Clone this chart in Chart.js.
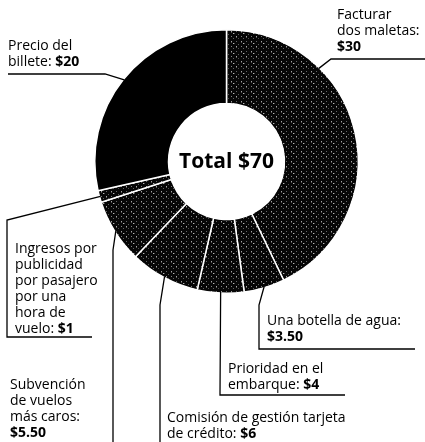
<!DOCTYPE html>
<html lang="es">
<head>
<meta charset="utf-8">
<title>Total $70</title>
<script src="https://cdn.jsdelivr.net/npm/chart.js@4.4.1/dist/chart.umd.min.js"></script>
<style>
  html, body { margin: 0; padding: 0; background: #fff; }
  #wrap { position: relative; width: 425px; height: 442px; }
</style>
</head>
<body>
<div id="wrap"><canvas id="donut"></canvas></div>
<script>
// ─── datos (sentido horario desde arriba) ───
const categories = [
    'Facturar dos maletas',
    'Una botella de agua',
    'Prioridad en el embarque',
    'Comisión de gestión tarjeta de crédito',
    'Subvención de vuelos más caros',
    'Ingresos por publicidad por pasajero por una hora de vuelo',
    'Precio del billete',
];
const values = [30, 3.5, 4, 6, 5.5, 1, 20];

// texto de cada etiqueta, {v} = valor en negrita
const labelLines = [
    ['Facturar', 'dos maletas:', '{v}'],
    ['Una botella de agua:', '{v}'],
    ['Prioridad en el', 'embarque: {v}'],
    ['Comisión de gestión tarjeta', 'de crédito: {v}'],
    ['Subvención', 'de vuelos', 'más caros:', '{v}'],
    ['Ingresos por', 'publicidad', 'por pasajero', 'por una', 'hora de', 'vuelo: {v}'],
    ['Precio del', 'billete: {v}'],
];

const centerText = ['Total ', '$' + values.reduce((s, v) => s + v, 0)];

// ─── posición de etiquetas y líneas guía ───
// frac: punto del arco donde empieza la línea; path: quiebres de la línea
const callouts = [
    { frac: 0.29, x: 337, y: 15, path: [[331, 59], [425, 59]] },
    { frac: 0.5, x: 267, y: 321, path: [[259, 305], [259, 349], [415, 349]] },
    { frac: 0.5, x: 228, y: 369, path: [[220, 395], [345, 395]] },
    { frac: 0.5, x: 167, y: 418, path: [[160, 305], [160, 442]] },
    { frac: 0.5, x: 10, y: 385, path: [[113, 250], [113, 442]] },
    { frac: 0.5, x: 15, y: 249, path: [[7, 220], [7, 337], [92, 337]] },
    { frac: 0.5, x: 8, y: 46, path: [[105, 74], [8, 74]] },
];

const LINE_H = 16;
const FONT = '"Open Sans", "Noto Sans", sans-serif';

function fmt(v) {
    return '$' + (Number.isInteger(v) ? v : v.toFixed(2));
}

// textura punteada de las porciones grises
function makeTexture() {
    const c = document.createElement('canvas');
    c.width = 10; c.height = 10;
    const g = c.getContext('2d');
    g.fillStyle = '#060606';
    g.fillRect(0, 0, 10, 10);
    const dots = [
        [1, 1, '#a0a0a0'], [6, 1, '#666666'], [3, 3, '#b8b8b8'], [8, 4, '#5e5e5e'],
        [1, 6, '#808080'], [6, 6, '#aaaaaa'], [3, 8, '#626262'], [8, 8, '#4c4c4c'],
        [1, 2, '#505050'], [6, 7, '#5a5a5a'], [4, 3, '#4a4a4a'],
    ];
    dots.forEach(([x, y, col]) => { g.fillStyle = col; g.fillRect(x, y, 1, 1); });
    return g.createPattern(c, 'repeat');
}

const ctx = document.getElementById('donut').getContext('2d');
const texture = makeTexture();
const colors = values.map((v, i) => (i === values.length - 1 ? '#000000' : texture));

function drawRich(c, text, value, x, y) {
    const parts = text.split('{v}');
    let cx = x;
    parts.forEach((p, i) => {
        if (p) {
            c.font = `400 14px ${FONT}`;
            c.fillText(p, cx, y);
            cx += c.measureText(p).width;
        }
        if (i < parts.length - 1) {
            c.font = `700 14px ${FONT}`;
            c.fillText(value, cx, y);
            cx += c.measureText(value).width;
        }
    });
}

const calloutPlugin = {
    id: 'callouts',
    afterDraw(chart) {
        const c = chart.ctx;
        const meta = chart.getDatasetMeta(0);
        c.save();
        c.strokeStyle = '#000';
        c.lineWidth = 1.3;
        c.fillStyle = '#000';
        c.textBaseline = 'middle';
        c.textAlign = 'left';
        meta.data.forEach((arc, i) => {
            const p = arc.getProps(['x', 'y', 'startAngle', 'endAngle', 'outerRadius'], true);
            const co = callouts[i];
            const a = p.startAngle + co.frac * (p.endAngle - p.startAngle);
            c.beginPath();
            c.moveTo(p.x + Math.cos(a) * (p.outerRadius - 1), p.y + Math.sin(a) * (p.outerRadius - 1));
            co.path.forEach(([x, y]) => c.lineTo(x, y));
            c.stroke();
            labelLines[i].forEach((ln, k) => drawRich(c, ln, fmt(values[i]), co.x, co.y + k * LINE_H));
        });
        // texto central
        const a0 = meta.data[0];
        c.font = `700 21px ${FONT}`;
        c.textAlign = 'center';
        c.fillText(centerText.join(''), a0.x, a0.y + 1);
        c.restore();
    },
};

new Chart(ctx, {
    type: 'doughnut',
    data: {
        labels: categories,
        datasets: [{
            data: values,
            backgroundColor: colors,
            borderColor: '#ffffff',
            borderWidth: 1.5,
            hoverOffset: 0,
        }],
    },
    options: {
        responsive: true,
        maintainAspectRatio: false,
        animation: false,
        cutout: '44%',
        layout: { padding: { left: 94, right: 66, top: 29, bottom: 148 } },
        plugins: {
            legend: { display: false },
            tooltip: { enabled: false },
        },
    },
    plugins: [calloutPlugin],
});
</script>
</body>
</html>
